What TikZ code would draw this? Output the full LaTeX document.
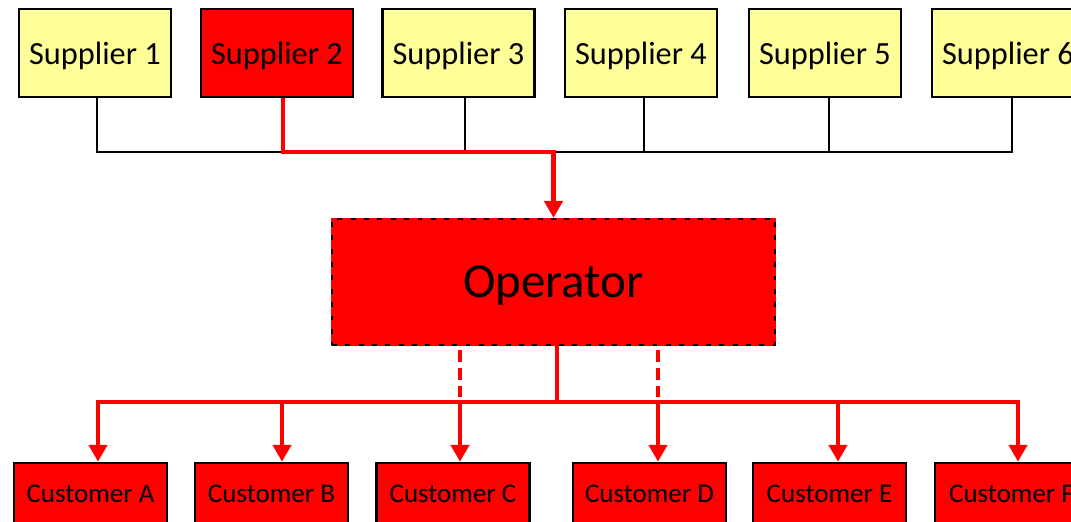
\documentclass[tikz,border=0pt]{standalone}
\usepackage{fontspec}
\setmainfont{Carlito}
\usetikzlibrary{arrows.meta,positioning,calc}
\definecolor{sYellow}{HTML}{FFFF99}
\definecolor{fRed}{HTML}{FF0000}

\begin{document}
\begin{tikzpicture}[x=0.025cm,y=-0.025cm,>={Triangle[width=12.8pt,length=12pt]}]
  \tikzset{
    supbox/.style={draw=black,line width=1.6pt,fill=sYellow,minimum width=3.8cm,
                   minimum height=2.2cm,inner sep=0pt,text depth=0pt,
                   font=\fontsize{23}{27}\selectfont},
    cusbox/.style={draw=black,line width=1.8pt,fill=fRed,minimum width=3.825cm,
                   minimum height=1.55cm,inner sep=0pt,text depth=0pt,
                   font=\fontsize{19.2}{23}\selectfont},
    opbox/.style={fill=fRed,minimum width=11.075cm,minimum height=3.15cm,inner sep=0pt,
                  text depth=0pt,font=\fontsize{34.8}{42}\selectfont,
                  preaction={draw=fRed,solid,line width=1.6pt},
                  draw=black,line width=1.6pt,dash pattern=on 3.5pt off 6pt},
    bus/.style={black,line width=1.1pt},
    flow/.style={fRed,line width=3.4pt},
  }
  \useasboundingbox (0,0) rectangle (1071,521);
  \clip (0,0) rectangle (1071,521);

  % Suppliers
  \node[supbox] (s1) at (95,53) {Supplier 1};
  \node[supbox,fill=fRed] (s2) at (277,53) {Supplier 2};
  \node[supbox] (s3) at (458.5,53) {Supplier 3};
  \node[supbox] (s4) at (641,53) {Supplier 4};
  \node[supbox] (s5) at (825,53) {Supplier 5};
  \node[supbox] (s6) at (1008,53) {Supplier 6};

  % Operator
  \node[opbox] (op) at (553.5,282) {Operator};

  % Customers
  \node[cusbox] (c1) at (90.5,494) {Customer A};
  \node[cusbox] (c2) at (271.5,494) {Customer B};
  \node[cusbox] (c3) at (453,494) {Customer C};
  \node[cusbox] (c4) at (649.5,494) {Customer D};
  \node[cusbox] (c5) at (829.5,494) {Customer E};
  \node[cusbox] (c6) at (1011.5,494) {Customer F};

  % supplier bus
  \coordinate (t1) at (97,152);
  \coordinate (t2) at (283,152);
  \coordinate (t3) at (465,152);
  \coordinate (t4) at (644,152);
  \coordinate (t5) at (829,152);
  \coordinate (t6) at (1012,152);
  \draw[bus] (s1.south -| t1) -- (t1) -- (t6) -- (s6.south -| t6);
  \draw[bus] (s3.south -| t3) -- (t3);
  \draw[bus] (s4.south -| t4) -- (t4);
  \draw[bus] (s5.south -| t5) -- (t5);
  \draw[flow,->] (s2.south -| t2) -- (t2) -| (op.north);

  % customer bus
  \coordinate (u0) at (557,402);
  \coordinate (u1) at (98,402);
  \coordinate (u2) at (282,402);
  \coordinate (u3) at (460,402);
  \coordinate (u4) at (658,402);
  \coordinate (u5) at (838,402);
  \coordinate (u6) at (1018,402);
  \draw[flow] (op.south -| u0) -- (u0);
  \draw[flow,dash pattern=on 8.5pt off 4pt,shorten <=3pt] (op.south -| u3) -- (u3);
  \draw[flow,dash pattern=on 8.5pt off 4pt,shorten <=3pt] (op.south -| u4) -- (u4);
  \draw[flow,<->] (u1 |- c1.north) -- (u1) -- (u6) -- (u6 |- c6.north);
  \draw[flow,->] (u2) -- (u2 |- c2.north);
  \draw[flow,->] (u3) -- (u3 |- c3.north);
  \draw[flow,->] (u4) -- (u4 |- c4.north);
  \draw[flow,->] (u5) -- (u5 |- c5.north);
\end{tikzpicture}
\end{document}
